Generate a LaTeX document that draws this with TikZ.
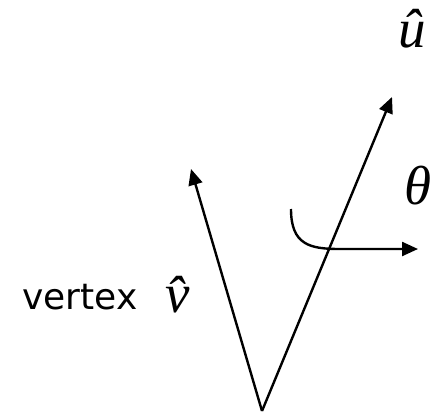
\documentclass[tikz,border=0pt]{standalone}
\usepackage{fontspec}
\setmainfont{Liberation Serif}
\newfontfamily\labelfont{DejaVu Sans}
\usetikzlibrary{arrows.meta}
\begin{document}
\begin{tikzpicture}[x=1pt,y=-1pt,
  vec/.style={line width=2.4pt,-{Triangle[length=16pt,width=14pt]}},
  mathlbl/.style={font=\fontsize{55}{55}\selectfont\itshape,inner sep=0pt},
  txtlbl/.style={font=\labelfont\fontsize{36}{36}\selectfont,inner sep=0pt}]
\useasboundingbox (0,0) rectangle (433,414);
\coordinate (V) at (262,411);
\coordinate (Ut) at (392,97);
\coordinate (Vt) at (191,169);
\coordinate (C0) at (291,209);
\coordinate (C1) at (418,249);
\draw[vec] (V) -- (Ut);
\draw[vec] (V) -- (Vt);
\draw[vec] (C0) .. controls (291,245) and (310,249) .. (340,249) -- (C1);
\node[mathlbl] (uhat) at (412,29) {û};
\node[mathlbl] (theta) at (418,186) {θ};
\node[mathlbl] (vhat) at (178,295) {v̂};
\node[txtlbl,anchor=base west] (vlabel) at (22,309) {vertex};
\end{tikzpicture}
\end{document}
